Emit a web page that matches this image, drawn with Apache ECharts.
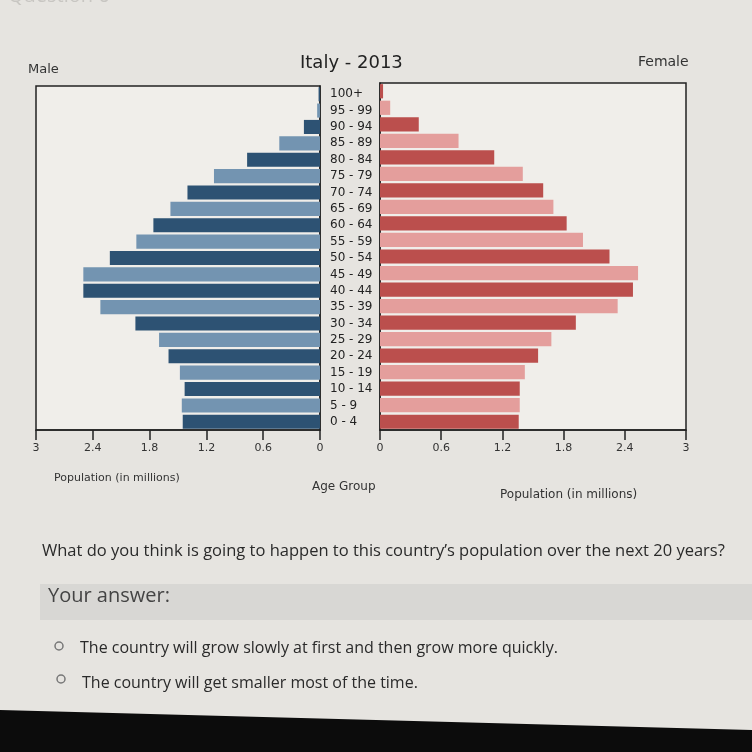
<!DOCTYPE html>
<html>
<head>
<meta charset="utf-8">
<script src="https://cdn.jsdelivr.net/npm/echarts@6/dist/echarts.min.js"></script>
<style>
html,body{margin:0;padding:0;background:#e4e2de;}
#chart{width:752px;height:752px;}
</style>
</head>
<body>
<div id="chart"></div>
<script>
// Age groups (bottom to top)
var ageGroups = ['0 - 4','5 - 9','10 - 14','15 - 19','20 - 24','25 - 29','30 - 34','35 - 39','40 - 44','45 - 49','50 - 54','55 - 59','60 - 64','65 - 69','70 - 74','75 - 79','80 - 84','85 - 89','90 - 94','95 - 99','100+'];
// Population in millions
var male   = [1.45,1.46,1.43,1.48,1.60,1.70,1.95,2.32,2.50,2.50,2.22,1.94,1.76,1.58,1.40,1.12,0.77,0.43,0.17,0.03,0.015];
var female = [1.36,1.37,1.37,1.42,1.55,1.68,1.92,2.33,2.48,2.53,2.25,1.99,1.83,1.70,1.60,1.40,1.12,0.77,0.38,0.10,0.03];

var maleColors = ['#2d5273','#7394b1'];
var femaleColors = ['#bb4f4d','#e49e9c'];

function colored(arr, cols){
  return arr.map(function(v,i){ return {value:v, itemStyle:{color:cols[i%2]}}; });
}

var chart = echarts.init(document.getElementById('chart'));
var xAxisCommon = {
  type:'value', min:0, max:3, interval:0.6,
  axisLine:{show:true, lineStyle:{color:'#222', width:1.5}},
  axisTick:{show:true, length:10, lineStyle:{color:'#222', width:1.5}},
  splitLine:{show:false},
  axisLabel:{margin:13, fontFamily:'DejaVu Sans', fontSize:11, color:'#333',
    formatter:function(v){return String(Math.round(v*10)/10);}}
};

chart.setOption({
  backgroundColor:'#e6e4e0',
  animation:false,
  grid:[
    {left:36, right:432, top:86, bottom:322, show:true, borderColor:'#222', borderWidth:1.5, backgroundColor:'#f0eeea'},
    {left:380, right:66, top:83, bottom:322, show:true, borderColor:'#222', borderWidth:1.5, backgroundColor:'#f0eeea'}
  ],
  xAxis:[
    Object.assign({gridIndex:0, inverse:true}, xAxisCommon),
    Object.assign({gridIndex:1}, xAxisCommon)
  ],
  yAxis:[
    {type:'category', gridIndex:0, data:ageGroups, position:'right',
     axisLine:{show:true, lineStyle:{color:'#222', width:1.5}}, axisTick:{show:false},
     axisLabel:{interval:0, align:'left', margin:10, fontFamily:'DejaVu Sans', fontSize:12, color:'#222'}},
    {type:'category', gridIndex:1, data:ageGroups, position:'left',
     axisLine:{show:true, lineStyle:{color:'#222', width:1.5}}, axisTick:{show:false}, axisLabel:{show:false}}
  ],
  series:[
    {type:'bar', name:'Male', xAxisIndex:0, yAxisIndex:0, data:colored(male, maleColors), barCategoryGap:'14%'},
    {type:'bar', name:'Female', xAxisIndex:1, yAxisIndex:1, data:colored(female, femaleColors), barCategoryGap:'14%'}
  ],
  graphic:[
    {type:'text', left:8, top:-14, style:{text:'Question 6', font:'20px "Open Sans"', fill:'#c8c6c2'}},
    {type:'text', left:28, top:63, style:{text:'Male', font:'13px "DejaVu Sans"', fill:'#333'}},
    {type:'text', left:300, top:54, style:{text:'Italy - 2013', font:'18px "DejaVu Sans"', fill:'#222'}},
    {type:'text', left:638, top:55, style:{text:'Female', font:'14px "DejaVu Sans"', fill:'#333'}},
    {type:'text', left:54, top:473, style:{text:'Population (in millions)', font:'11px "DejaVu Sans"', fill:'#333'}},
    {type:'text', left:312, top:481, style:{text:'Age Group', font:'12px "DejaVu Sans"', fill:'#333'}},
    {type:'text', left:500, top:489, style:{text:'Population (in millions)', font:'12px "DejaVu Sans"', fill:'#333'}},
    {type:'text', left:42, top:543, style:{text:'What do you think is going to happen to this country\u2019s population over the next 20 years?', font:'16.5px "Open Sans"', fill:'#2a2a2a'}},
    {type:'rect', shape:{x:40, y:584, width:712, height:36}, style:{fill:'#d8d7d4'}, z:-1},
    {type:'text', left:48, top:586, style:{text:'Your answer:', font:'20px "Open Sans"', fill:'#444'}},
    {type:'circle', shape:{cx:59, cy:646, r:4}, style:{fill:'none', stroke:'#777', lineWidth:1.5}},
    {type:'text', left:80, top:640, style:{text:'The country will grow slowly at first and then grow more quickly.', font:'16px "Open Sans"', fill:'#2a2a2a'}},
    {type:'circle', shape:{cx:61, cy:679, r:4}, style:{fill:'none', stroke:'#777', lineWidth:1.5}},
    {type:'text', left:82, top:675, style:{text:'The country will get smaller most of the time.', font:'16px "Open Sans"', fill:'#2a2a2a'}},
    {type:'polygon', shape:{points:[[0,710],[752,730],[752,752],[0,752]]}, style:{fill:'#0c0c0c'}}
  ]
});
</script>
</body>
</html>
